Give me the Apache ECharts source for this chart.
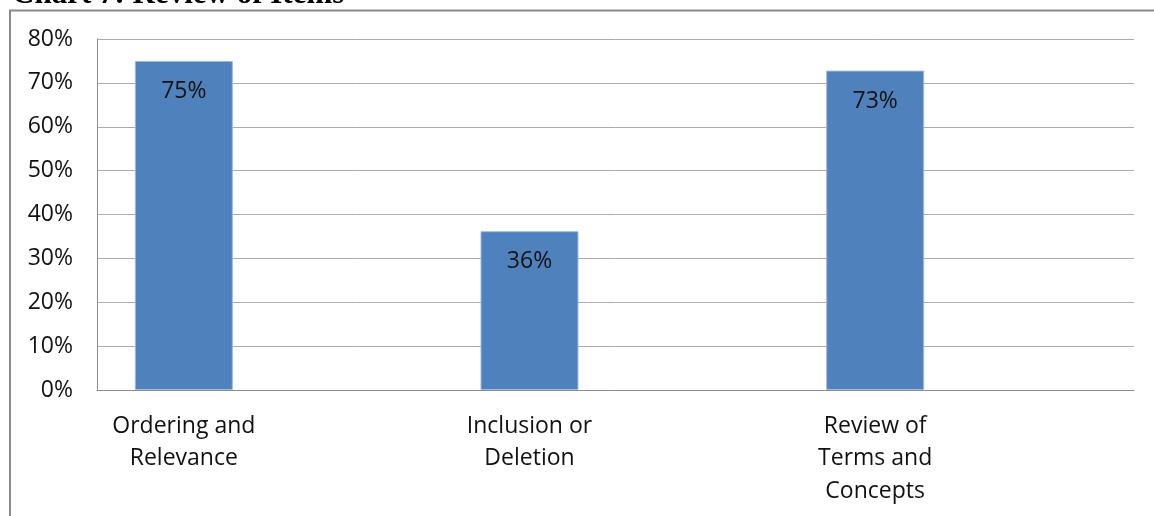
<!DOCTYPE html>
<html>
<head>
<meta charset="utf-8">
<script src="https://cdn.jsdelivr.net/npm/echarts@6/dist/echarts.min.js"></script>
<style>
html,body{margin:0;padding:0;background:#fff;}
#chart{width:1154px;height:516px;}
</style>
</head>
<body>
<div id="chart"></div>
<script>
const titleText = 'Chart 7: Review of Items';
const categories = ['Ordering and\nRelevance', 'Inclusion or\nDeletion', 'Review of\nTerms and\nConcepts'];
const values = [75, 36.2, 72.8];
const yTicks = [0, 10, 20, 30, 40, 50, 60, 70, 80];

const FONT = '"Open Sans", sans-serif';
const chart = echarts.init(document.getElementById('chart'), null, {renderer: 'canvas'});
chart.setOption({
  animation: false,
  backgroundColor: '#fff',
  graphic: [
    {type: 'rect', shape: {x: 10, y: 10.5, width: 1300, height: 700}, style: {fill: 'none', stroke: '#8a8a8a', lineWidth: 2}, z: 0},
    {type: 'text', x: 12, y: -5, style: {text: titleText, font: 'bold 31px "Liberation Serif", serif', fill: '#000', verticalAlign: 'middle'}, z: 10}
  ],
  grid: [
    {left: 97, right: 20, top: 39, bottom: 126},
    {left: 11, width: 1037, top: 39, bottom: 126}
  ],
  xAxis: [
    {gridIndex: 0, type: 'value', min: 0, max: 1, axisLabel: {show: false}, axisTick: {show: false}, splitLine: {show: false},
     axisLine: {show: true, lineStyle: {color: '#8c8c8c', width: 1}}},
    {gridIndex: 1, type: 'category', data: categories, axisLine: {show: false}, axisTick: {show: false},
     axisLabel: {color: '#111', fontFamily: FONT, fontSize: 23, lineHeight: 32.5, margin: 20, interval: 0}}
  ],
  yAxis: [
    {gridIndex: 0, type: 'value', min: yTicks[0], max: yTicks[yTicks.length - 1], interval: 10,
     axisLine: {show: true, lineStyle: {color: '#8c8c8c', width: 1}}, axisTick: {show: false},
     splitLine: {show: true, lineStyle: {color: '#ababab', width: 1}},
     axisLabel: {formatter: v => v + '%', color: '#111', fontFamily: FONT, fontSize: 23, margin: 24}},
    {gridIndex: 1, type: 'value', min: yTicks[0], max: yTicks[yTicks.length - 1], show: false}
  ],
  series: [{
    type: 'bar', xAxisIndex: 1, yAxisIndex: 1, data: values, barWidth: 98,
    itemStyle: {color: '#4f81bd', borderColor: '#9fb9db', borderWidth: 1},
    label: {show: true, position: 'insideTop', distance: 19, formatter: p => Math.round(p.value) + '%',
      color: '#111', fontFamily: FONT, fontSize: 23}
  }]
});
</script>
</body>
</html>
